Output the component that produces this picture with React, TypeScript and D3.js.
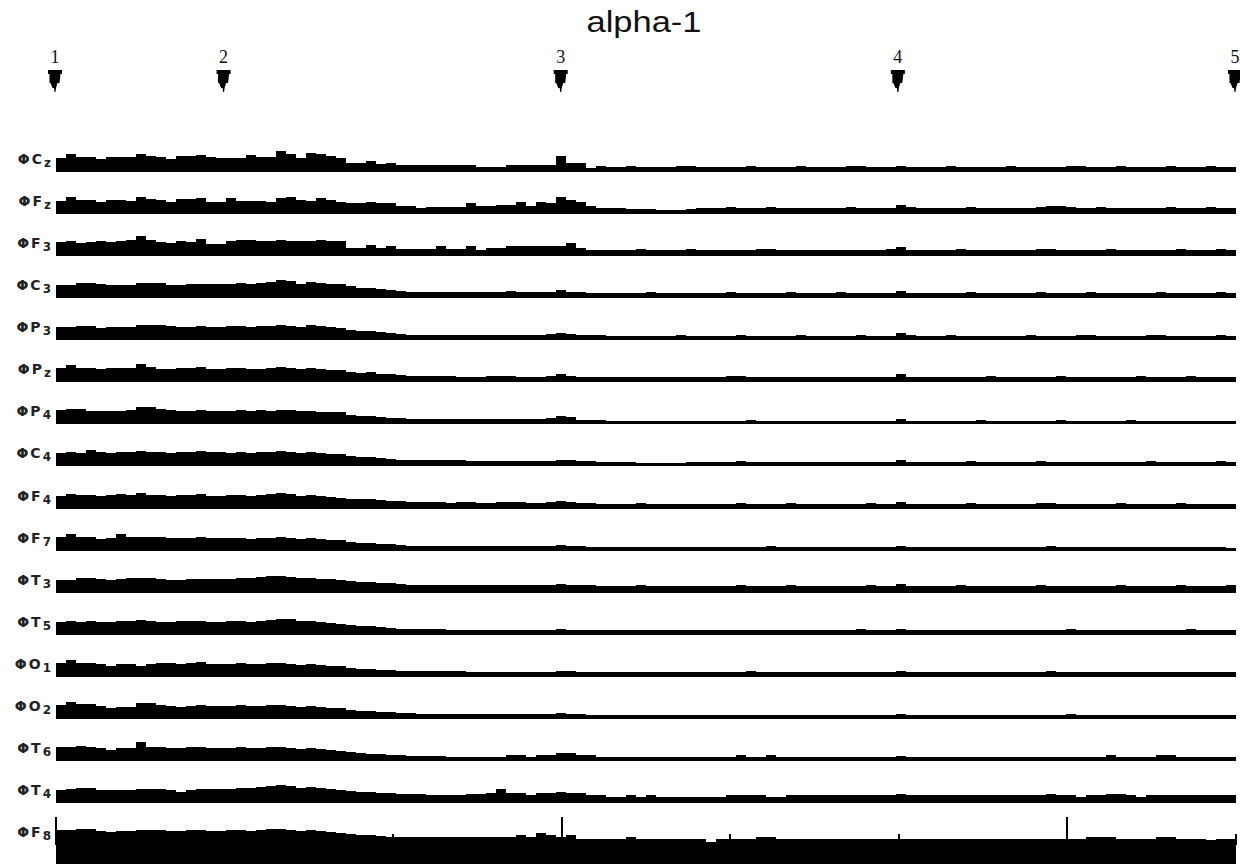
import React from 'react';
import * as d3 from 'd3';

const W = 1240;
const H = 864;

const title = 'alpha-1';
// event markers (minutes)
const markerLabels = ['1', '2', '3', '4', '5'];
const markerTimes = [0, 0.5, 1.5, 2.5, 3.5];
const tickTimes = [0, 0.5, 1, 1.5, 2, 2.5, 3, 3.5];
const majorTicks = [0, 1.5, 3];

const channels = [
  ['C', 'z'], ['F', 'z'], ['F', '3'], ['C', '3'], ['P', '3'], ['P', 'z'], ['P', '4'], ['C', '4'],
  ['F', '4'], ['F', '7'], ['T', '3'], ['T', '5'], ['O', '1'], ['O', '2'], ['T', '6'], ['T', '4'], ['F', '8'],
];

// alpha-1 power per bin, one array per lead
const cz = [
  14, 18, 15, 15, 13, 15, 15, 15, 18, 16, 15, 13, 16, 16, 17,
  15, 14, 14, 14, 17, 15, 15, 21, 18, 14, 19, 18, 16, 14, 9, 9, 11, 8, 9, 7,
  7, 7, 7, 7, 7, 7, 7, 5, 5, 5, 7, 7, 7, 7, 7, 16, 9, 9, 4, 6,
  5, 5, 6, 5, 5, 5, 5, 6, 6, 5, 5, 5, 5, 5, 6, 5, 5, 5, 5, 6,
  5, 5, 5, 5, 6, 6, 5, 5, 5, 6, 5, 5, 5, 5, 6, 5, 5, 5, 5, 5,
  6, 5, 5, 5, 5, 5, 6, 6, 5, 5, 5, 6, 5, 5, 5, 5, 6, 5, 5, 5, 6, 5, 5,
];
const fz = [
  13, 17, 14, 14, 12, 14, 14, 13, 17, 15, 14, 12, 15, 15, 16,
  12, 12, 16, 13, 13, 13, 12, 16, 17, 14, 13, 16, 14, 12, 11, 11, 12, 11, 11, 8,
  8, 6, 7, 7, 7, 7, 11, 8, 8, 9, 9, 12, 8, 12, 11, 17, 14, 12, 8, 6,
  6, 6, 5, 5, 5, 4, 4, 4, 5, 6, 6, 6, 7, 6, 6, 6, 7, 6, 6, 6,
  6, 6, 6, 6, 7, 6, 6, 6, 6, 9, 7, 6, 6, 6, 6, 6, 7, 6, 6, 6,
  6, 6, 6, 7, 8, 8, 7, 6, 6, 7, 6, 6, 6, 6, 6, 6, 7, 6, 6, 6, 7, 6, 6,
];
const f3 = [
  14, 15, 13, 14, 15, 14, 15, 16, 20, 16, 14, 13, 15, 14, 17,
  12, 12, 15, 16, 16, 15, 15, 16, 15, 15, 15, 16, 15, 15, 8, 8, 11, 8, 10, 7,
  7, 7, 7, 10, 7, 7, 10, 6, 8, 8, 10, 10, 10, 10, 10, 10, 13, 8, 6, 6,
  6, 6, 6, 7, 6, 6, 6, 6, 7, 6, 6, 6, 6, 6, 6, 7, 7, 6, 6, 6,
  6, 6, 6, 6, 6, 6, 6, 6, 7, 9, 6, 6, 6, 6, 6, 7, 6, 6, 6, 6,
  6, 6, 6, 7, 7, 6, 6, 6, 6, 6, 7, 6, 6, 6, 6, 6, 6, 7, 6, 6, 6, 7, 6,
];
const c3 = [
  13, 13, 15, 15, 14, 13, 13, 13, 15, 15, 15, 13, 13, 14, 14,
  14, 14, 14, 15, 14, 15, 16, 18, 17, 14, 16, 15, 14, 14, 12, 10, 10, 9, 8, 7,
  6, 6, 6, 6, 6, 6, 6, 6, 6, 6, 7, 6, 6, 6, 6, 8, 6, 6, 5, 5,
  5, 5, 5, 5, 6, 5, 5, 5, 5, 5, 5, 5, 6, 5, 5, 5, 5, 5, 6, 5,
  5, 5, 5, 6, 5, 5, 5, 5, 5, 7, 5, 5, 5, 5, 5, 5, 6, 5, 5, 5,
  5, 5, 5, 6, 5, 5, 5, 5, 6, 5, 5, 5, 5, 5, 5, 6, 5, 5, 5, 5, 5, 6, 5,
];
const p3 = [
  13, 13, 14, 14, 12, 13, 13, 13, 15, 15, 15, 14, 13, 13, 14,
  13, 13, 14, 14, 13, 14, 14, 15, 14, 13, 15, 14, 13, 12, 10, 9, 9, 8, 7, 6,
  5, 5, 5, 5, 5, 5, 5, 5, 5, 5, 5, 5, 5, 5, 6, 7, 6, 5, 5, 5,
  4, 4, 4, 4, 4, 4, 4, 5, 4, 4, 4, 4, 4, 5, 4, 4, 4, 4, 4, 5,
  4, 4, 4, 4, 4, 5, 4, 4, 4, 7, 5, 4, 4, 4, 5, 4, 4, 4, 4, 4,
  4, 4, 5, 4, 4, 4, 4, 5, 5, 4, 4, 4, 4, 4, 5, 5, 4, 4, 4, 4, 4, 5, 4,
];
const pz = [
  14, 17, 14, 14, 13, 14, 14, 14, 18, 15, 13, 13, 14, 14, 15,
  13, 13, 14, 14, 13, 13, 14, 15, 14, 13, 14, 13, 12, 12, 10, 9, 10, 8, 8, 7,
  6, 6, 6, 6, 6, 5, 5, 5, 6, 6, 6, 5, 5, 5, 6, 8, 6, 5, 5, 5,
  5, 5, 5, 5, 5, 5, 5, 5, 5, 5, 5, 5, 6, 6, 5, 5, 5, 5, 5, 5,
  5, 5, 5, 5, 5, 5, 5, 5, 5, 8, 5, 5, 5, 5, 5, 5, 5, 5, 6, 5,
  5, 5, 5, 5, 5, 6, 5, 5, 5, 5, 5, 5, 5, 6, 5, 5, 5, 5, 6, 5, 5, 5, 5,
];
const p4 = [
  14, 15, 15, 13, 13, 13, 13, 14, 17, 17, 15, 14, 13, 13, 14,
  13, 13, 13, 14, 13, 14, 13, 14, 14, 13, 13, 12, 12, 12, 9, 8, 8, 7, 6, 6,
  5, 5, 5, 5, 5, 5, 5, 5, 5, 5, 5, 5, 5, 5, 6, 8, 7, 4, 4, 4,
  3, 3, 3, 3, 3, 3, 3, 3, 3, 3, 3, 3, 3, 3, 4, 3, 3, 3, 3, 3,
  3, 3, 3, 3, 3, 3, 3, 3, 3, 5, 3, 3, 3, 3, 3, 3, 3, 4, 3, 3,
  3, 3, 3, 3, 3, 4, 3, 3, 3, 3, 3, 3, 4, 3, 3, 3, 3, 3, 3, 3, 3, 3, 3,
];
const c4 = [
  13, 14, 13, 16, 14, 13, 14, 14, 15, 14, 14, 13, 14, 14, 15,
  14, 14, 13, 14, 13, 14, 14, 15, 14, 13, 14, 13, 12, 12, 10, 9, 9, 8, 7, 6,
  6, 6, 6, 6, 6, 6, 5, 5, 5, 5, 5, 5, 5, 5, 5, 6, 6, 5, 5, 4,
  4, 4, 4, 3, 3, 3, 3, 3, 4, 4, 4, 4, 4, 5, 4, 4, 4, 4, 4, 4,
  4, 4, 4, 4, 4, 4, 4, 4, 4, 6, 4, 4, 4, 4, 4, 4, 5, 4, 4, 4,
  4, 4, 4, 5, 4, 4, 4, 4, 4, 4, 4, 4, 4, 4, 5, 4, 4, 4, 4, 4, 4, 5, 4,
];
const f4 = [
  13, 15, 14, 14, 13, 14, 15, 14, 16, 14, 14, 13, 14, 14, 15,
  13, 13, 14, 14, 13, 14, 15, 16, 15, 13, 14, 13, 12, 11, 10, 10, 10, 9, 8, 8,
  7, 7, 7, 7, 6, 7, 7, 6, 6, 7, 7, 7, 6, 6, 7, 8, 7, 6, 6, 5,
  5, 5, 5, 6, 5, 5, 5, 5, 5, 5, 5, 5, 5, 6, 5, 5, 5, 5, 6, 5,
  5, 5, 5, 5, 5, 5, 6, 5, 5, 7, 5, 5, 5, 5, 5, 5, 6, 5, 5, 5,
  5, 5, 5, 6, 6, 5, 5, 5, 5, 5, 5, 6, 5, 5, 5, 5, 5, 6, 5, 5, 5, 5, 5,
];
const f7 = [
  14, 17, 14, 14, 12, 13, 17, 14, 14, 14, 14, 13, 13, 13, 14,
  13, 13, 13, 13, 12, 13, 13, 14, 13, 12, 13, 12, 11, 11, 9, 8, 8, 7, 7, 6,
  5, 5, 5, 5, 5, 5, 5, 5, 5, 5, 5, 5, 5, 5, 5, 6, 5, 5, 4, 4,
  4, 4, 4, 4, 4, 4, 4, 4, 4, 4, 4, 4, 4, 4, 4, 4, 5, 4, 4, 4,
  4, 4, 4, 4, 4, 4, 4, 4, 4, 5, 4, 4, 4, 4, 4, 4, 4, 4, 4, 4,
  4, 4, 4, 4, 5, 4, 4, 4, 4, 4, 4, 4, 4, 4, 4, 4, 4, 4, 4, 4, 4, 4, 3,
];
const t3 = [
  13, 13, 15, 15, 14, 13, 14, 15, 15, 15, 14, 13, 13, 14, 14,
  14, 14, 14, 15, 15, 16, 17, 17, 16, 15, 15, 14, 14, 13, 12, 11, 11, 10, 10, 9,
  8, 8, 8, 8, 8, 8, 8, 8, 8, 8, 8, 8, 8, 8, 8, 9, 8, 8, 8, 7,
  7, 7, 7, 8, 7, 7, 7, 7, 7, 7, 7, 7, 7, 8, 7, 7, 7, 7, 8, 7,
  7, 7, 7, 7, 7, 7, 8, 7, 7, 9, 7, 7, 7, 7, 7, 8, 7, 7, 7, 7,
  7, 7, 7, 8, 7, 7, 7, 7, 7, 7, 7, 8, 7, 7, 7, 7, 7, 8, 7, 7, 7, 7, 8,
];
const t5 = [
  13, 14, 13, 14, 13, 13, 14, 14, 15, 14, 13, 13, 14, 14, 14,
  13, 13, 14, 14, 13, 14, 15, 16, 16, 14, 14, 13, 12, 11, 10, 9, 9, 8, 7, 6,
  6, 6, 6, 6, 5, 5, 5, 5, 5, 5, 5, 5, 5, 5, 5, 6, 5, 5, 5, 5,
  5, 5, 5, 5, 5, 5, 5, 5, 5, 5, 5, 5, 5, 5, 5, 5, 5, 5, 5, 5,
  5, 5, 5, 5, 5, 6, 5, 5, 5, 6, 5, 5, 5, 5, 5, 5, 5, 5, 5, 5,
  5, 5, 5, 5, 5, 5, 6, 5, 5, 5, 5, 5, 5, 5, 5, 5, 5, 5, 6, 5, 5, 5, 5,
];
const o1 = [
  14, 17, 14, 14, 13, 11, 13, 13, 11, 13, 14, 14, 13, 14, 15,
  13, 13, 13, 14, 13, 13, 14, 14, 13, 12, 13, 12, 11, 11, 9, 8, 8, 7, 7, 6,
  6, 6, 6, 6, 6, 6, 5, 5, 5, 5, 5, 5, 5, 5, 5, 6, 6, 5, 5, 5,
  5, 5, 5, 5, 5, 5, 5, 5, 5, 5, 5, 5, 5, 5, 6, 5, 5, 5, 5, 5,
  5, 5, 5, 5, 5, 5, 5, 5, 5, 6, 5, 5, 5, 5, 5, 5, 5, 5, 5, 5,
  5, 5, 5, 5, 6, 5, 5, 5, 5, 5, 5, 5, 5, 5, 5, 5, 5, 5, 5, 5, 5, 5, 5,
];
const o2 = [
  14, 17, 15, 15, 13, 11, 12, 12, 16, 16, 14, 13, 12, 13, 14,
  13, 13, 13, 14, 13, 13, 14, 14, 13, 12, 13, 12, 11, 11, 9, 8, 8, 7, 7, 6,
  6, 5, 5, 5, 5, 5, 5, 5, 5, 5, 5, 5, 5, 5, 5, 6, 5, 5, 4, 4,
  4, 4, 4, 4, 4, 4, 4, 4, 4, 4, 4, 4, 4, 4, 4, 4, 4, 4, 4, 4,
  4, 4, 4, 4, 4, 4, 4, 4, 4, 5, 4, 4, 4, 4, 4, 4, 4, 4, 4, 4,
  4, 4, 4, 4, 4, 4, 5, 4, 4, 4, 4, 4, 4, 4, 4, 4, 4, 4, 4, 4, 4, 4, 4,
];
const t6 = [
  14, 14, 15, 14, 13, 11, 13, 13, 19, 14, 14, 13, 13, 14, 14,
  13, 13, 13, 14, 13, 13, 14, 14, 13, 12, 13, 12, 11, 10, 9, 8, 7, 7, 6, 6,
  5, 5, 5, 5, 4, 4, 4, 4, 4, 4, 6, 6, 4, 6, 6, 8, 8, 6, 6, 4,
  4, 4, 4, 4, 4, 4, 4, 4, 4, 4, 4, 4, 4, 6, 4, 4, 6, 4, 4, 4,
  4, 4, 4, 4, 4, 4, 4, 4, 4, 5, 4, 4, 4, 4, 4, 4, 4, 4, 4, 4,
  4, 4, 4, 4, 4, 4, 4, 4, 4, 4, 6, 4, 4, 4, 4, 6, 6, 4, 4, 4, 4, 4, 4,
];
const t4 = [
  13, 14, 15, 15, 13, 13, 13, 13, 14, 14, 14, 13, 11, 13, 14,
  14, 14, 14, 15, 15, 16, 17, 18, 17, 15, 16, 15, 14, 13, 12, 11, 11, 10, 10, 9,
  9, 9, 8, 8, 8, 8, 9, 9, 10, 14, 10, 10, 8, 10, 10, 11, 10, 10, 8, 8,
  6, 6, 8, 6, 8, 6, 6, 6, 6, 6, 6, 6, 8, 8, 8, 8, 6, 6, 8, 8,
  8, 8, 8, 8, 8, 8, 8, 8, 8, 9, 8, 8, 8, 8, 8, 8, 8, 8, 8, 8,
  8, 8, 8, 8, 9, 8, 8, 6, 8, 8, 9, 9, 8, 6, 8, 8, 8, 8, 8, 8, 8, 8, 8,
];
const f8 = [
  15, 15, 16, 16, 14, 13, 14, 14, 15, 15, 15, 14, 14, 15, 15,
  14, 14, 15, 15, 14, 15, 16, 16, 15, 14, 15, 14, 13, 12, 11, 10, 10, 9, 8, 8,
  8, 8, 8, 8, 8, 8, 8, 8, 8, 8, 8, 10, 8, 12, 10, 8, 10, 6, 6, 6,
  6, 6, 8, 6, 6, 6, 6, 6, 6, 6, 3, 6, 6, 6, 6, 8, 8, 6, 6, 6,
  6, 6, 6, 6, 6, 6, 6, 6, 6, 6, 6, 6, 6, 6, 6, 6, 6, 6, 6, 6,
  6, 6, 6, 6, 6, 6, 6, 6, 8, 8, 8, 6, 6, 6, 6, 8, 8, 6, 6, 6, 5, 6, 6,
];

const series = [cz, fz, f3, c3, p3, pz, p4, c4, f4, f7, t3, t5, o1, o2, t6, t4, f8];

export default function App() {
  const nBins = cz.length;
  const x = d3.scaleLinear().domain([0, 3.5]).range([56, 1236]);
  const xBin = d3.scaleLinear().domain([0, nBins]).range(x.range());
  const rowY = d3.scalePoint<number>().domain(d3.range(series.length)).range([172, 845]);
  const amp = d3.scaleLinear().domain([0, 25]).range([0, 25]);
  const lastRow = series.length - 1;
  const axisY = rowY(lastRow) as number;

  const arrow = 'M-7,70 H7 V74 H5.5 L4.5,83 H2.5 L1,88 L0.5,92 H-0.5 L-1,88 H-2.5 L-4.5,83 H-5.5 V74 H-7 Z';

  return (
    <svg width={W} height={H} style={{ position: 'absolute', left: 0, top: 0, background: '#fff' }}>
      <text x={644} y={32} textAnchor="middle" fontFamily="Liberation Sans, Arial, sans-serif"
        fontSize={29} textLength={115} lengthAdjust="spacingAndGlyphs" fill="#111">{title}</text>

      {markerTimes.map((t, i) => (
        <g key={i} transform={`translate(${x(t) - 1},0)`}>
          <text x={0} y={63} textAnchor="middle" fontFamily="Liberation Serif, Times New Roman, serif" fontSize={18} fill="#111">
            {markerLabels[i]}
          </text>
          <path d={arrow} fill="#000" />
        </g>
      ))}

      {series.map((vals, r) => {
        const base = rowY(r) as number;
        const y0 = r === lastRow ? H : base;
        const pts = vals.concat([vals[vals.length - 1]]);
        const area = d3.area<number>()
          .curve(d3.curveStepAfter)
          .x((_, i) => xBin(i))
          .y0(y0)
          .y1(d => base - amp(d));
        const [lead, sub] = channels[r];
        return (
          <g key={r}>
            <path d={area(pts) ?? ''} fill="#000" shapeRendering="crispEdges" />
            <text x={53} y={base - 8} textAnchor="end" fontFamily="DejaVu Sans, sans-serif"
              fontWeight="bold" fontSize={14} letterSpacing={2} fill="#222">
              {'Φ' + lead}
              <tspan fontSize={12} dy={3}>{sub}</tspan>
            </text>
          </g>
        );
      })}

      {tickTimes.map(t => (
        <line key={t} x1={x(t)} x2={x(t)} y1={axisY} y2={axisY - (majorTicks.includes(t) ? 28 : 11)}
          stroke="#000" strokeWidth={2} shapeRendering="crispEdges" />
      ))}
    </svg>
  );
}
